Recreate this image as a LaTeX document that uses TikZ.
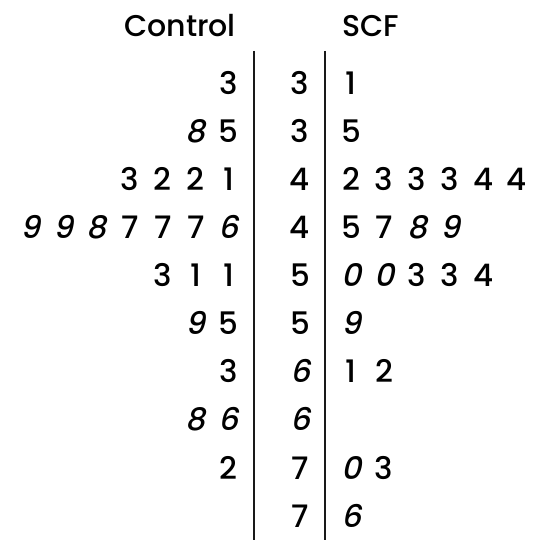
\documentclass[tikz,border=0pt]{standalone}
\usepackage{fontspec}
\setmainfont{Poppins Medium}
\newfontfamily\slfont[FakeSlant=0.22]{Poppins Medium}
\newcommand\dd[1]{\makebox[33pt][c]{#1}}
\newcommand\sd[1]{\makebox[33pt][c]{\slfont #1}}
\tikzset{
  leafL/.style={anchor=east,inner sep=0pt,font=\fontsize{31}{33}\selectfont},
  leafR/.style={anchor=west,inner sep=0pt,font=\fontsize{31}{33}\selectfont},
  stemnum/.style={anchor=center,inner sep=0pt,font=\fontsize{31}{33}\selectfont},
  head/.style={anchor=center,inner sep=0pt,font=\fontsize{30}{32}\selectfont},
  bar/.style={line width=2.8pt,black!90}
}
\begin{document}
\begin{tikzpicture}[x=1pt,y=1pt]
\useasboundingbox (0,0) rectangle (534,-540);
\node[head] (hc) at (180,-26) {Control};
\node[head] (hs) at (371,-26) {SCF};
\coordinate (t1) at (254,-51);
\coordinate (b1) at (254,-540);
\coordinate (t2) at (325,-51);
\coordinate (b2) at (325,-540);
\draw[bar] (t1) -- (b1);
\draw[bar] (t2) -- (b2);
% rows
\def\ra{-83}\def\rb{-131}\def\rc{-179}\def\rd{-227}\def\re{-275}
\def\rf{-323}\def\rg{-371}\def\rh{-419}\def\ri{-468}\def\rj{-516}
% stems
\node[stemnum] (s1) at (300,\ra) {\dd3};
\node[stemnum] (s2) at (300,\rb) {\dd3};
\node[stemnum] (s3) at (300,\rc) {\dd4};
\node[stemnum] (s4) at (300,\rd) {\dd4};
\node[stemnum] (s5) at (300,\re) {\dd5};
\node[stemnum] (s6) at (300,\rf) {\dd5};
\node[stemnum] (s7) at (300,\rg) {\sd6};
\node[stemnum] (s8) at (300,\rh) {\sd6};
\node[stemnum] (s9) at (300,\ri) {\dd7};
\node[stemnum] (s10) at (300,\rj) {\dd7};
% control leaves
\node[leafL] (l1) at (245.5,\ra) {\dd3};
\node[leafL] (l2) at (245.5,\rb) {\sd8\dd5};
\node[leafL] (l3) at (245.5,\rc) {\dd3\dd2\dd2\dd1};
\node[leafL] (l4) at (245.5,\rd) {\sd9\sd9\sd8\dd7\dd7\dd7\sd6};
\node[leafL] (l5) at (245.5,\re) {\dd3\dd1\dd1};
\node[leafL] (l6) at (245.5,\rf) {\sd9\dd5};
\node[leafL] (l7) at (245.5,\rg) {\dd3};
\node[leafL] (l8) at (245.5,\rh) {\sd8\sd6};
\node[leafL] (l9) at (245.5,\ri) {\dd2};
% SCF leaves
\node[leafR] (r1) at (334.5,\ra) {\dd1};
\node[leafR] (r2) at (334.5,\rb) {\dd5};
\node[leafR] (r3) at (334.5,\rc) {\dd2\dd3\dd3\dd3\dd4\dd4};
\node[leafR] (r4) at (334.5,\rd) {\dd5\dd7\sd8\sd9};
\node[leafR] (r5) at (334.5,\re) {\sd0\sd0\dd3\dd3\dd4};
\node[leafR] (r6) at (334.5,\rf) {\sd9};
\node[leafR] (r7) at (334.5,\rg) {\dd1\dd2};
\node[leafR] (r9) at (334.5,\ri) {\sd0\dd3};
\node[leafR] (r10) at (334.5,\rj) {\sd6};
\end{tikzpicture}
\end{document}
